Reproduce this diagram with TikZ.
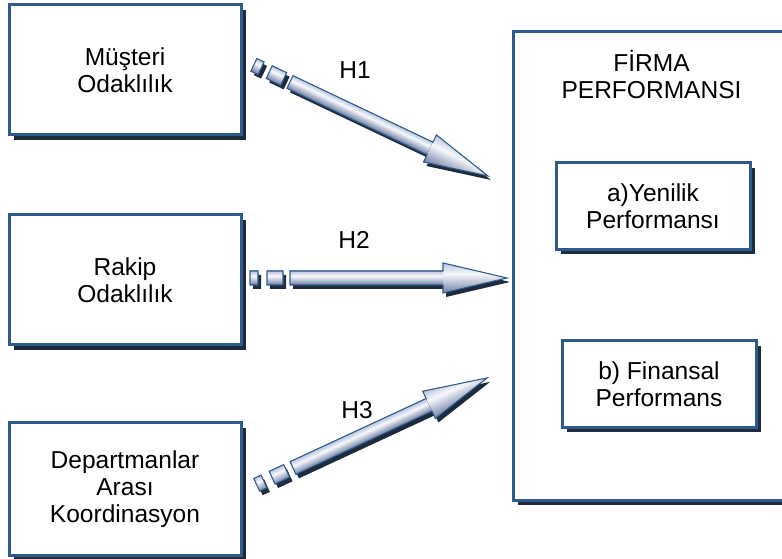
\documentclass[tikz,border=0pt]{standalone}
\usepackage{fontspec}
\setmainfont{Liberation Sans}
\usetikzlibrary{positioning, shadows}

\definecolor{boxline}{HTML}{2E5A8C}
\definecolor{boxshade}{HTML}{1E2B3C}
\definecolor{hlight}{HTML}{B9C4DC}
\definecolor{hwhite}{HTML}{F7F8FB}
\definecolor{hdark}{HTML}{6F7FA4}
\pgfdeclareverticalshading{hypshade}{100bp}{color(0bp)=(hdark); color(25bp)=(hdark);
  color(57bp)=(hwhite); color(75bp)=(hlight); color(100bp)=(hlight)}

% tail squares + block arrow, local units, length #1
\newcommand{\arrowshape}[1]{(-40,-7) rectangle (-32,7) (-23,-7) rectangle (-7,7)
  (0,-7) -- ({#1-64},-7) -- ({#1-64},-15) -- (#1,0) -- ({#1-64},15) -- ({#1-64},7) -- (0,7) -- cycle}
\newcommand{\hyparrow}[3]{% start, angle, length
  \begin{scope}[transform canvas={shift={(#1)}, xshift=2.25pt, yshift=-3pt, rotate=#2}]
    \fill[boxshade] \arrowshape{#3};
  \end{scope}
  \begin{scope}[transform canvas={shift={(#1)}, rotate=#2}]
    \fill[shading=hypshade] (-40,-7) rectangle (-32,7);
    \fill[shading=hypshade] (-23,-7) rectangle (-7,7);
    \fill[shading=hypshade] (0,-7) rectangle ({#3-63},7);
    \fill[shading=hypshade] ({#3-64},-15) -- (#3,0) -- ({#3-64},15) -- cycle;
    \draw[hypline] \arrowshape{#3};
  \end{scope}}

\begin{document}
\begin{tikzpicture}[x=0.75pt, y=-0.75pt, every node/.style={font=\fontsize{18.4}{20.5}\selectfont},
    box/.style={rectangle, draw=boxline, line width=2.25pt, fill=white, outer sep=0pt, align=center,
      minimum width=174pt, minimum height=97.5pt,
      drop shadow={shadow xshift=3.75pt, shadow yshift=-3.75pt, fill=boxshade, opacity=1}},
    smallbox/.style={box, minimum width=145.5pt, minimum height=65pt},
    hypline/.style={draw=boxline, line width=0.8pt, line join=miter}]
    \useasboundingbox (0,0) rectangle (782,559);

    % left side
    \node[box] (mus) at (125,70) {Müşteri\\Odaklılık};
    \node[box, below=60pt of mus] (rak) {Rakip\\Odaklılık};
    \node[box, below=58.5pt of rak, minimum height=99pt] (dep) {Departmanlar\\Arası\\Koordinasyon};

    % right side
    \node[box, minimum width=207.75pt, minimum height=351pt] (firma) at (651.5,266) {};
    \node[below=10pt of firma.north, align=center] (title) {FİRMA\\PERFORMANSI};
    \node[smallbox] (yen) at (653,206) {a)Yenilik\\Performansı};
    \node[smallbox] (fin) at (659,384) {b) Finansal\\Performans};

    % hypotheses
    \coordinate (h1) at (290,82);
    \coordinate (h2) at (290,278);
    \coordinate (h3) at (293,468);
    \hyparrow{h1}{-25.4}{219}
    \hyparrow{h2}{0}{217}
    \hyparrow{h3}{24.9}{214}
    \node (h1lab) at (355,70) {H1};
    \node (h2lab) at (354,240) {H2};
    \node (h3lab) at (357,410) {H3};
\end{tikzpicture}
\end{document}
